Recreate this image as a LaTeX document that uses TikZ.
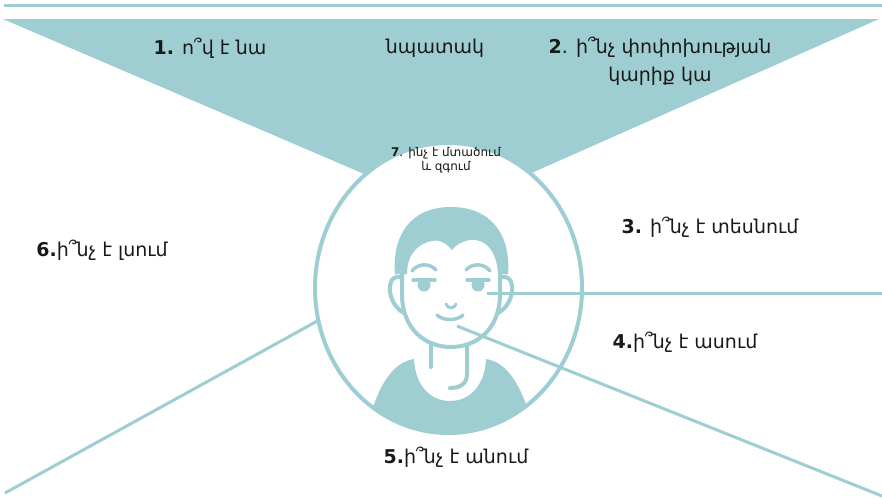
\documentclass[tikz,border=0pt]{standalone}
\usepackage{fontspec}
\setmainfont{DejaVu Sans}
\usetikzlibrary{shapes.geometric}
\definecolor{teal1}{RGB}{158,205,210}
\begin{document}
\begin{tikzpicture}[x=1pt,y=-1pt,
  stroke/.style={draw=teal1, line width=4pt, line cap=round},
  ray/.style={draw=teal1, line width=3pt},
  lbl/.style={inner sep=0pt, font=\fontsize{19}{24}\selectfont, text=black!90},
  small/.style={inner sep=0pt, font=\fontsize{12}{14}\selectfont, align=center, text=black!90}]
\useasboundingbox (0,0) rectangle (882,498);
\fill[white] (0,0) rectangle (882,498);
% top rule
\coordinate (topL) at (4,5.7);
\coordinate (topR) at (882,5.7);
\draw[teal1, line width=3.3pt] (topL) -- (topR);
% triangle
\coordinate (triL) at (3,19);
\coordinate (triR) at (879,19);
\coordinate (apex) at (448,210);
\fill[teal1] (triL) -- (triR) -- (apex) -- cycle;
% head ellipse
\node[ellipse, draw=teal1, fill=white, line width=4pt, minimum width=267pt, minimum height=290pt, inner sep=0pt, outer sep=0pt] (head) at (448.5,288) {};
% shirt
\begin{scope}
\clip (448.5,288) ellipse [x radius=133.5pt, y radius=145pt];
\fill[teal1] (360,460) -- (372,410) .. controls (382,380) and (395,362) .. (414,359)
  .. controls (415,385) and (430,401) .. (450,401) .. controls (470,401) and (485,385) .. (486,359)
  .. controls (505,362) and (518,380) .. (528,410) -- (540,460) -- cycle;
\end{scope}
% face outline
\draw[stroke] (402,270) -- (402,296) .. controls (403,330) and (426,347) .. (451,347)
  .. controls (476,347) and (499,330) .. (500,296) -- (500,270);
% hair
\fill[teal1] (395,274) .. controls (392,236) and (410,207) .. (451,207)
  .. controls (492,207) and (511,236) .. (508,274) -- (498,274)
  .. controls (497,252) and (486,238) .. (470,240)
  .. controls (462,241) and (456,245) .. (452,250)
  .. controls (447,244) and (440,239) .. (432,241)
  .. controls (416,244) and (407,256) .. (407,274) -- cycle;
% ears
\draw[stroke] (402,278) .. controls (387,270) and (384,302) .. (404,313);
\draw[stroke] (500,278) .. controls (515,270) and (518,302) .. (498,313);
% eyebrows
\draw[stroke, line width=3.5pt] (412,271) .. controls (418,263) and (430,263) .. (436,270);
\draw[stroke, line width=3.5pt] (466,270) .. controls (472,263) and (484,263) .. (490,271);
% eyes
\draw[stroke, line width=3.5pt] (413,280) -- (435,280);
\fill[teal1] (424,285) circle[radius=6.5pt];
\draw[stroke, line width=3.5pt] (467,280) -- (489,280);
\fill[teal1] (478,285) circle[radius=6.5pt];
% nose, mouth
\draw[stroke, line width=3pt] (446,304) .. controls (447,309) and (455,309) .. (456,304);
\draw[stroke, line width=3.5pt] (437,315) .. controls (443,321) and (457,321) .. (463,315);
% neck
\draw[stroke] (431,346) -- (431,367);
\draw[stroke] (467,346) -- (467,374) .. controls (467,384) and (460,388) .. (450,388);
% rays
\coordinate (eyeR) at (487,293);
\coordinate (rEdge) at (882,293);
\draw[ray] (eyeR) -- (rEdge);
\coordinate (mouthR) at (457,326);
\coordinate (brCorner) at (882,496);
\draw[ray] (mouthR) -- (brCorner);
\coordinate (blCorner) at (5,493);
\draw[ray] (blCorner) -- (head.194);
% labels
\node[lbl] (t1) at (210,48) {\textbf{1.} ո՞վ է նա};
\node[lbl] (t1b) at (435,48) {նպատակ};
\node[lbl, align=center, font=\fontsize{19}{28}\selectfont] (t2) at (660,61) {\textbf{2}. ի՞նչ փոփոխության\\կարիք կա};
\node[small] (t7) at (446,160) {\textbf{7}. ինչ է մտածում\\և զգում};
\node[lbl] (t3) at (710,227) {\textbf{3.} ի՞նչ է տեսնում};
\node[lbl] (t4) at (685,342) {\textbf{4.}ի՞նչ է ասում};
\node[lbl] (t5) at (456,457) {\textbf{5.}ի՞նչ է անում};
\node[lbl] (t6) at (102,250) {\textbf{6.}ի՞նչ է լսում};
\end{tikzpicture}
\end{document}
